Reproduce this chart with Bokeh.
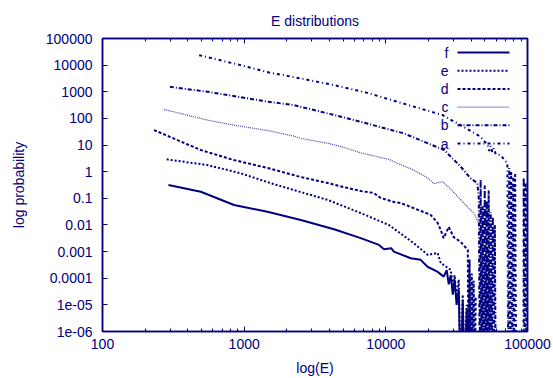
from bokeh.plotting import figure
from bokeh.models import LogAxis, FixedTicker, Label, Arrow, Range1d, CustomJSTickFormatter
from bokeh.embed import file_html
from bokeh.resources import INLINE

NAVY = "#000080"
FONT = "Liberation Sans"

# ---------------- data ----------------
a_E = [481, 946, 1500, 2510, 4310, 7410, 12100, 25200, 32000, 46700, 52400, 53700, 55000,
       56400, 57800, 59700, 64700, 67900, 72100, 73100, 74300, 75500, 76700, 78000, 79300,
       80500, 81800, 83200, 84600, 93500, 94000, 95500, 97000, 98600, 99500]
a_P = [23600, 10000, 5300, 3160, 1780, 910, 420, 133, 65, 20.4, 10.0, 6.0, 9.2,
       5.5, 7.5, 4.5, 4.2, 3.0, 2.06, 1e-8, 1.4, 1e-8, 1.1, 1e-8, 0.6,
       1e-8, 0.9, 1e-8, 1e-8, 1e-8, 0.6, 1e-8, 0.4, 1e-8, 0.3]

b_E = [299, 551, 1490, 2240, 3890, 6650, 10500, 13400, 25800, 33800, 39700, 44300,
       45300, 46000, 46700, 47500, 48300, 49100, 49900, 50700, 51500, 52400, 53200,
       54100, 55000, 55900, 56900, 57800, 58800, 59700]
b_P = [1530, 1000, 420, 316, 154, 75, 38.7, 27.4, 6.5, 1.53, 0.56, 0.37,
       0.1, 1e-8, 0.5, 1e-8, 0.05, 1e-8, 0.3, 1e-8, 0.08, 1e-8, 0.2,
       1e-8, 0.03, 1e-8, 0.02, 1e-8, 0.01, 1e-8]

c_E = [271, 551, 845, 1490, 2240, 2510, 3890, 5040, 6650, 10500, 12100, 15700, 19800,
       21800, 25200, 28700, 35500, 41700, 46700, 47500, 48300, 49100, 49900, 50700,
       51500, 52400, 53200, 54100, 55000, 56000]
c_P = [218, 86.5, 56, 34.4, 21.7, 17.8, 11.6, 8.2, 5.1, 2.9, 2.06, 1.15, 0.58,
       0.36, 0.42, 0.22, 0.067, 0.028, 0.0084, 1e-8, 2e-3, 1e-8, 6e-4, 1e-8,
       1e-3, 1e-8, 3e-4, 1e-8, 1e-4, 1e-8]

d_E = [231, 494, 845, 1470, 2510, 3890, 5040, 6650, 8220, 9210, 11400, 12700, 15700,
       20700, 23200, 24400, 25600, 27800, 30100, 33800, 37900, 38400, 39000, 39700,
       40400, 41100, 41700, 42400, 43100]
d_P = [36.5, 6.5, 2.74, 1.37, 0.63, 0.375, 0.265, 0.188, 0.158, 0.103, 0.073, 0.067, 0.043,
       0.024, 0.012, 0.0065, 0.0032, 0.0084, 0.0035, 0.0023, 0.00115, 1e-8, 5e-4, 1e-8,
       1.5e-4, 1e-8, 8e-5, 1e-8, 2e-5]

e_E = [284, 551, 946, 1540, 2240, 3890, 6650, 10500, 15700, 19800, 23200, 24400, 28700,
       29700, 30600, 31600, 32700, 33800, 34900, 36000, 37200, 38400, 39700]
e_P = [2.9, 1.77, 0.87, 0.37, 0.205, 0.087, 0.028, 0.01, 0.0021, 0.00075, 0.00089, 0.00038, 0.000205,
       5.9e-5, 1.3e-4, 1.5e-5, 8.9e-5, 1e-8, 2.4e-5, 1e-8, 1e-5, 1e-8, 5e-6]

f_E = [292, 494, 849, 1460, 2510, 4310, 6650, 8950, 9710, 10900, 11400, 15000, 17600,
       19700, 23100, 25600, 26900, 27800, 28700, 29700, 30600, 31600, 32700, 33800,
       34900, 36000, 37200, 38400]
f_P = [0.315, 0.177, 0.056, 0.0315, 0.0154, 0.0069, 0.0032, 0.00178, 0.00123, 0.00134, 0.001, 0.00056, 0.00049,
       0.00027, 0.000177, 0.000115, 2.0e-4, 5.9e-5, 1.3e-4, 2.4e-5, 8.9e-5, 1.0e-5, 3.6e-5, 1e-8,
       1.5e-5, 1e-8, 6.5e-6, 1e-8]

series_names = ["f", "e", "d", "c", "b", "a"]

x_ticks = [100, 1000, 10000, 100000]
x_tick_labels = ["100", "1000", "10000", "100000"]
y_ticks = [1e-6, 1e-5, 1e-4, 1e-3, 1e-2, 1e-1, 1, 10, 100, 1000, 10000, 100000]
y_tick_labels = ["1e-06", "1e-05", "0.0001", "0.001", "0.01", "0.1", "1", "10", "100",
                 "1000", "10000", "100000"]
x_minor = [m * 10 ** k for k in (2, 3, 4) for m in range(2, 10)]

# ---------------- figure ----------------
p = figure(width=553, height=378, x_axis_type="log", y_axis_type="log",
           x_range=Range1d(100, 100000), y_range=Range1d(1e-6, 1e5),
           output_backend="svg", toolbar_location=None,
           min_border_left=102, min_border_right=26, min_border_top=38, min_border_bottom=46)
p.grid.visible = False
p.outline_line_color = NAVY
p.outline_line_width = 1.5

p.title.text = "E distributions"
p.title.align = "center"
p.title.text_font = FONT
p.title.text_font_size = "14px"
p.title.text_font_style = "normal"
p.title.text_color = NAVY
p.title.standoff = 20

styles = {
    "a": dict(line_width=2, line_dash="3 3 1 3"),
    "b": dict(line_width=2, line_dash="4 2 1 2"),
    "c": dict(line_width=1.2, line_dash="1 1", line_alpha=0.75),
    "d": dict(line_width=2, line_dash="3 2"),
    "e": dict(line_width=2, line_dash="2 2"),
    "f": dict(line_width=2),
}
data = {"a": (a_E, a_P), "b": (b_E, b_P), "c": (c_E, c_P),
        "d": (d_E, d_P), "e": (e_E, e_P), "f": (f_E, f_P)}
for name in ["a", "b", "c", "d", "e", "f"]:
    E, P = data[name]
    p.line(E, P, line_color=NAVY, **styles[name])

fmt_code = """
const lt = Math.log10(tick);
for (let i = 0; i < tv.length; i++) {
  if (Math.abs(Math.log10(tv[i]) - lt) < 1e-6) return tl[i];
}
return '';
"""
blank = CustomJSTickFormatter(code="return '';")


def style_axis(ax):
    ax.axis_line_color = NAVY
    ax.axis_line_width = 1.5
    ax.major_tick_line_color = NAVY
    ax.minor_tick_line_color = NAVY
    ax.major_tick_in = 5
    ax.major_tick_out = 0
    ax.minor_tick_in = 3
    ax.minor_tick_out = 0
    ax.major_label_text_font = FONT
    ax.major_label_text_font_size = "14px"
    ax.major_label_text_color = NAVY
    ax.axis_label_text_font = FONT
    ax.axis_label_text_font_size = "14px"
    ax.axis_label_text_font_style = "normal"
    ax.axis_label_text_color = NAVY


xa = p.xaxis[0]
xa.ticker = FixedTicker(ticks=x_ticks, minor_ticks=x_minor)
xa.formatter = CustomJSTickFormatter(args=dict(tv=x_ticks, tl=x_tick_labels), code=fmt_code)
xa.axis_label = "log(E)"
style_axis(xa)
xa.major_label_standoff = 7
xa.axis_label_standoff = 8

ya = p.yaxis[0]
ya.ticker = FixedTicker(ticks=y_ticks, minor_ticks=[])
ya.formatter = CustomJSTickFormatter(args=dict(tv=y_ticks, tl=y_tick_labels), code=fmt_code)
ya.axis_label = "log probability"
style_axis(ya)
ya.major_label_standoff = 10
ya.axis_label_standoff = 16

top = LogAxis(ticker=FixedTicker(ticks=x_ticks, minor_ticks=x_minor), formatter=blank)
style_axis(top)
top.major_label_standoff = 0
p.add_layout(top, "above")

right = LogAxis(ticker=FixedTicker(ticks=y_ticks, minor_ticks=[]), formatter=blank)
style_axis(right)
right.major_label_standoff = 0
p.add_layout(right, "right")

# ---------------- legend (gnuplot style: key letter left of sample) ----------------
row_y0 = 279
row_step = 18.2
for i, name in enumerate(series_names):
    y = row_y0 - i * row_step
    p.add_layout(Label(x=346, y=y, x_units="screen", y_units="screen", text=name,
                       text_font=FONT, text_font_size="14px", text_color=NAVY,
                       text_align="right", text_baseline="middle"))
    st = dict(styles[name])
    p.add_layout(Arrow(end=None, x_start=355, y_start=y, x_end=407, y_end=y,
                       start_units="screen", end_units="screen", line_color=NAVY, **st))

open("out.html", "w").write(file_html(p, INLINE))
